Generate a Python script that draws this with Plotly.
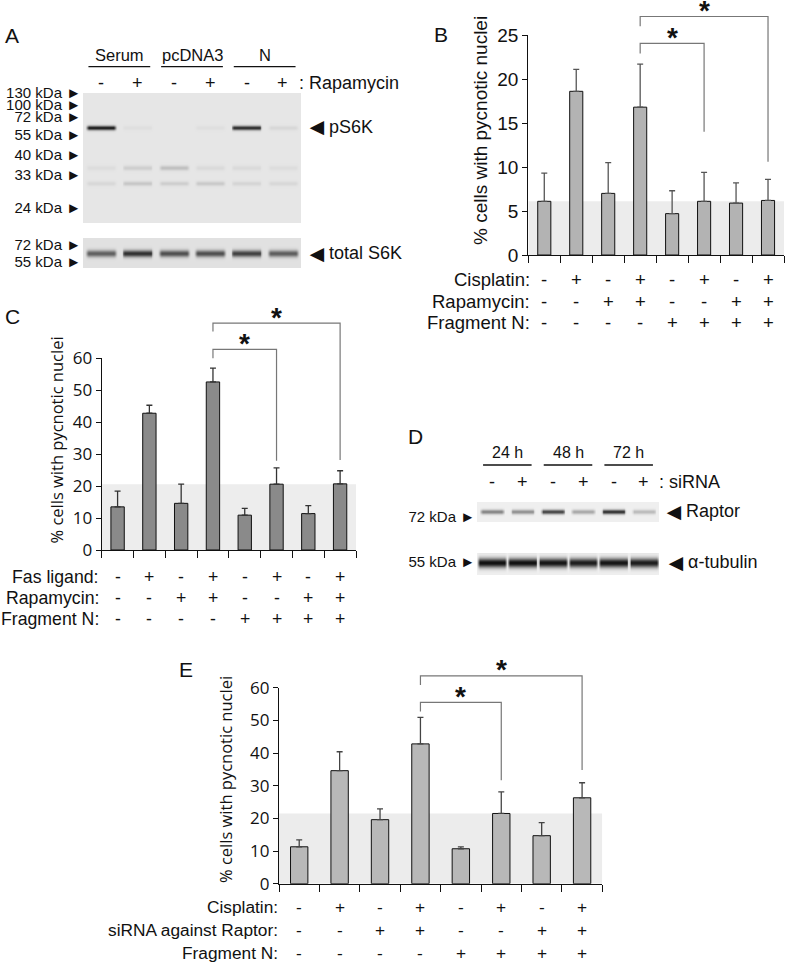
import numpy as np
import plotly.graph_objects as go

W, H = 788, 967
ARIAL = "Liberation Sans, Arial, sans-serif"
HUMAN = "Open Sans, Noto Sans, sans-serif"

# ---------------- data ----------------
# Panel A (western blot)
a_groups = ["Serum", "pcDNA3", "N"]
a_rapamycin = ["-", "+", "-", "+", "-", "+"]
a_marker_kda = [130, 100, 72, 55, 40, 33, 24]
a_marker_pos = [0.0, 0.092, 0.185, 0.323, 0.477, 0.63, 0.885]
ps6k_pos = 0.262
ps6k_intensity = [0.85, 0.03, 0.0, 0.03, 0.78, 0.06]
faint1_pos = 0.57
faint1_intensity = [0.04, 0.10, 0.16, 0.05, 0.05, 0.04]
faint2_pos = 0.69
faint2_intensity = [0.06, 0.13, 0.10, 0.12, 0.07, 0.06]
a2_marker_kda = [72, 55]
a2_marker_pos = [0.23, 0.79]
total_s6k_pos = 0.49
total_s6k_intensity = [0.55, 0.75, 0.62, 0.62, 0.68, 0.56]

# Panel B
b_rows = ["Cisplatin:", "Rapamycin:", "Fragment N:"]
b_signs = [["-", "+", "-", "+", "-", "+", "-", "+"],
           ["-", "-", "+", "+", "-", "-", "+", "+"],
           ["-", "-", "-", "-", "+", "+", "+", "+"]]
b_mean = [6.1, 18.6, 7.0, 16.8, 4.7, 6.1, 5.9, 6.2]
b_err = [3.2, 2.5, 3.5, 4.9, 2.6, 3.3, 2.3, 2.4]
b_ticks = [0, 5, 10, 15, 20, 25]

# Panel C
c_rows = ["Fas ligand:", "Rapamycin:", "Fragment N:"]
c_signs = b_signs
c_mean = [13.5, 42.8, 14.6, 52.6, 10.9, 20.6, 11.4, 20.7]
c_err = [4.9, 2.5, 6.0, 4.3, 2.1, 5.1, 2.5, 4.1]
c_ticks = [0, 10, 20, 30, 40, 50, 60]

# Panel D (western blot)
d_times = ["24 h", "48 h", "72 h"]
d_sirna = ["-", "+", "-", "+", "-", "+"]
raptor_pos = 0.45
raptor_intensity = [0.45, 0.40, 0.72, 0.30, 0.80, 0.22]
d1_marker_kda = [72]
d1_marker_pos = [0.75]
tubulin_pos = 0.41
tubulin_intensity = [0.95, 0.95, 0.93, 0.90, 0.93, 0.90]
d2_marker_kda = [55]
d2_marker_pos = [0.41]

# Panel E
e_rows = ["Cisplatin:", "siRNA against Raptor:", "Fragment N:"]
e_signs = b_signs
e_mean = [11.3, 34.6, 19.6, 42.8, 10.7, 21.5, 14.7, 26.3]
e_err = [2.1, 5.8, 3.3, 8.1, 0.6, 6.6, 4.0, 4.6]
e_ticks = [0, 10, 20, 30, 40, 50, 60]


# ---------------- helpers (screen pixels -> paper) ----------------
def px(x):
    return x / W


def py(y):
    return 1 - y / H


def dx(a, b):
    return [px(a), px(b)]


def dy(top, bot):
    return [py(bot), py(top)]


def blot(n_rows, bands, bg, halfwidth, soft=0.08):
    xc = -0.5 + (np.arange(240) + 0.5) * 0.025
    yc = (np.arange(n_rows) + 0.5) / n_rows
    z = np.full((n_rows, xc.size), bg)
    for pos, sig, inten in bands:
        prof = np.exp(-0.5 * ((yc - pos) / sig) ** 2)
        for i, v in enumerate(inten):
            d = np.abs(xc - i)
            m = np.clip((halfwidth - d) / soft + 0.5, 0, 1)
            m = m * m * (3 - 2 * m)
            z += v * np.outer(prof, m)
    return xc, yc, np.clip(z, 0, 1)


GRAYS = [[0, "rgb(246,246,246)"], [1, "rgb(12,12,12)"]]

fig = go.Figure()
layout = dict(width=W, height=H, margin=dict(l=0, r=0, t=0, b=0, pad=0, autoexpand=False),
              paper_bgcolor="white", plot_bgcolor="rgba(0,0,0,0)",
              showlegend=False, font=dict(family=ARIAL, color="#111"))
annotations = []
shapes = []


def ann(**kw):
    d = dict(showarrow=False, xanchor="center", yanchor="middle")
    d.update(kw)
    annotations.append(d)


def blot_axes(k, xd, yd, kda, pos, fsize):
    layout["xaxis%s" % k] = dict(domain=xd, range=[-0.5, 5.5], visible=False,
                                 anchor="y%s" % k, fixedrange=True, automargin=False)
    layout["yaxis%s" % k] = dict(domain=yd, range=[1, 0], anchor="x%s" % k,
                                 tickvals=pos, ticktext=["%d kDa \u25ba" % v for v in kda],
                                 ticks="", showgrid=False, zeroline=False, showline=False,
                                 ticklabelstandoff=1, automargin=False,
                                 tickfont=dict(family=ARIAL, size=fsize, color="#111"),
                                 fixedrange=True)


def add_blot(k, n_rows, bands, bg, hw, soft=0.08):
    xc, yc, z = blot(n_rows, bands, bg, hw, soft)
    fig.add_trace(go.Heatmap(x=xc, y=yc, z=z, colorscale=GRAYS, zmin=0, zmax=1,
                             showscale=False, hoverinfo="skip", zsmooth="best",
                             xaxis="x%s" % ("" if k == 1 else k),
                             yaxis="y%s" % ("" if k == 1 else k)))


def pointer(text, x, y):
    ann(text="\u25c4", x=px(x), y=py(y), xref="paper", yref="paper", xanchor="left",
        font=dict(size=24))
    ann(text=text, x=px(x + 24), y=py(y), xref="paper", yref="paper", xanchor="left",
        font=dict(size=18))


# ---- Panel A ----
blot_axes("", dx(83, 301), dy(93, 223), a_marker_kda, a_marker_pos, 15)
add_blot(1, 130, [(ps6k_pos, 0.012, ps6k_intensity),
                  (faint1_pos, 0.013, faint1_intensity),
                  (faint2_pos, 0.012, faint2_intensity)], 0.07, 0.39, 0.12)
blot_axes(2, dx(83, 301), dy(238, 268), a2_marker_kda, a2_marker_pos, 15)
add_blot(2, 30, [(total_s6k_pos, 0.08, total_s6k_intensity)], 0.09, 0.40, 0.12)

for g, name in enumerate(a_groups):
    c = 2 * g + 0.5
    ann(text=name, x=c, y=py(55), xref="x", yref="paper", font=dict(size=16.5))
    shapes.append(dict(type="line", xref="x", yref="paper", x0=c - 0.85, x1=c + 0.85,
                       y0=py(66.7), y1=py(66.7), line=dict(color="#111", width=1.3)))
for i, s in enumerate(a_rapamycin):
    ann(text=s, x=i, y=py(83), xref="x", yref="paper", font=dict(size=18))
ann(text=": Rapamycin", x=px(297), y=py(83), xref="paper", yref="paper", xanchor="left",
    font=dict(size=18))
pointer("pS6K", 303, 127)
pointer("total S6K", 303, 253)

# ---- Panel D ----
blot_axes(5, dx(477, 659), dy(502, 522), d1_marker_kda, d1_marker_pos, 15)
add_blot(5, 20, [(raptor_pos, 0.08, raptor_intensity)], 0.03, 0.37, 0.12)
blot_axes(6, dx(477, 659), dy(553, 575), d2_marker_kda, d2_marker_pos, 15)
add_blot(6, 22, [(tubulin_pos, 0.15, tubulin_intensity)], 0.03, 0.46, 0.1)

for g, name in enumerate(d_times):
    c = 2 * g + 0.5
    ann(text=name, x=c, y=py(453), xref="x5", yref="paper", font=dict(size=16))
    shapes.append(dict(type="line", xref="x5", yref="paper", x0=c - 0.8, x1=c + 0.8,
                       y0=py(465), y1=py(465), line=dict(color="#111", width=1.3)))
for i, s in enumerate(d_sirna):
    ann(text=s, x=i, y=py(482), xref="x5", yref="paper", font=dict(size=18))
ann(text=": siRNA", x=px(657), y=py(482), xref="paper", yref="paper", xanchor="left",
    font=dict(size=18))
pointer("Raptor", 660, 511)
pointer("\u03b1-tubulin", 662, 562)


# ---- Bar panels ----
def bar_panel(k, xd, yd, means, errs, ticks, ymax, barcol, errcol, tickfont, width,
              rows, signs, row_y, label_right, label_size, shade_col, brackets):
    xa, ya = "x%d" % k, "y%d" % k
    fig.add_trace(go.Bar(x=list(range(len(means))), y=means, width=width,
                         marker=dict(color=barcol, line=dict(color="#111", width=1)),
                         error_y=dict(type="data", array=errs, arrayminus=[0] * len(errs),
                                      symmetric=False, color=errcol, thickness=1.3, width=3),
                         xaxis=xa, yaxis=ya, hoverinfo="skip"))
    n = len(means)
    layout["xaxis%d" % k] = dict(domain=xd, range=[-0.5, n - 0.5], anchor=ya,
                                 tickvals=[i - 0.5 for i in range(n + 1)], ticks="outside",
                                 ticklen=7, tickwidth=1.3, tickcolor="#111",
                                 showticklabels=False, showline=True, linecolor="#111",
                                 linewidth=1.3, showgrid=False, zeroline=False,
                                 fixedrange=True, automargin=False)
    layout["yaxis%d" % k] = dict(domain=yd, range=[0, ymax], anchor=xa, tickvals=ticks,
                                 ticks="outside", ticklen=5, tickwidth=1.3, tickcolor="#111",
                                 showline=True, linecolor="#111", linewidth=1.3,
                                 showgrid=False, zeroline=False, tickfont=tickfont,
                                 fixedrange=True, automargin=False)
    # shaded reference band (level of the 6th condition)
    shapes.append(dict(type="rect", xref=xa, yref=ya, x0=-0.5, x1=n - 0.5, y0=0,
                       y1=means[5], fillcolor=shade_col, line=dict(width=0), layer="below"))
    for r, (lab, sg) in enumerate(zip(rows, signs)):
        ann(text=lab, x=px(label_right), y=py(row_y[r]), xref="paper", yref="paper",
            xanchor="right", font=dict(size=label_size))
        for i, s in enumerate(sg):
            ann(text=s, x=i, y=py(row_y[r]), xref=xa, yref="paper",
                font=dict(size=label_size))
    for (i0, i1, level, left_end, right_end) in brackets:
        path = "M %g,%g L %g,%g L %g,%g L %g,%g" % (
            i0, left_end / ymax, i0, level / ymax, i1, level / ymax, i1, right_end / ymax)
        shapes.append(dict(type="path", path=path, xref=xa, yref=ya + " domain",
                           line=dict(color="#777", width=1.2)))
        ann(text="<b>*</b>", x=(i0 + i1) / 2, y=level / ymax, xref=xa,
            yref=ya + " domain", yshift=6, font=dict(size=28, family=ARIAL))


bar_panel(3, dx(528.3, 784), dy(35, 255), b_mean, b_err, b_ticks, 25, "#b3b3b3", "#555",
          dict(family=ARIAL, size=19, color="#111"), 0.41,
          b_rows, b_signs, [280, 301.7, 322.7], 532, 18.5, "#ececec",
          [(3, 5, 24.05, 22.9, 14.0), (3, 7, 27.1, 26.0, 10.6)])
bar_panel(4, dx(101.7, 356), dy(358.3, 550), c_mean, c_err, c_ticks, 60, "#8a8a8a", "#333",
          dict(family=HUMAN, size=17, color="#111"), 0.42,
          c_rows, c_signs, [576.7, 597.7, 619.3], 101, 17.7, "#ededed",
          [(3, 5, 62.8, 60.0, 27.9), (3, 7, 71.0, 68.4, 28.2)])
bar_panel(7, dx(279, 602.3), dy(687.7, 883.7), e_mean, e_err, e_ticks, 60, "#b8b8b8", "#444",
          dict(family=HUMAN, size=17, color="#111"), 0.43,
          e_rows, e_signs, [906.7, 930, 953.3], 279.5, 17.3, "#ececec",
          [(3, 5, 55.5, 52.7, 31.7), (3, 7, 63.6, 60.8, 34.8)])

# y titles
TITLE = "% cells with pycnotic nuclei"
ann(text=TITLE, x=px(481), y=py(131), xref="paper", yref="paper", textangle=-90,
    font=dict(size=19, family=ARIAL))
ann(text=TITLE, x=px(56), y=py(440.5), xref="paper", yref="paper", textangle=-90,
    font=dict(size=16.5, family=HUMAN))
ann(text=TITLE, x=px(225), y=py(780), xref="paper", yref="paper", textangle=-90,
    font=dict(size=16.5, family=HUMAN))

# panel letters
for letter, (lx, ly) in zip("ABCDE", [(12, 35), (441, 34), (12, 316), (415, 437), (186, 669)]):
    ann(text=letter, x=px(lx), y=py(ly), xref="paper", yref="paper",
        font=dict(size=21, family=ARIAL))

layout["annotations"] = annotations
layout["shapes"] = shapes
fig.update_layout(**layout)
# remove the default 8px page margin so the 788x967 figure fills the window exactly
fig.write_html("out.html", config={"displayModeBar": False},
               post_script="document.body.style.margin='0';"
                           "document.body.style.overflow='hidden';")
